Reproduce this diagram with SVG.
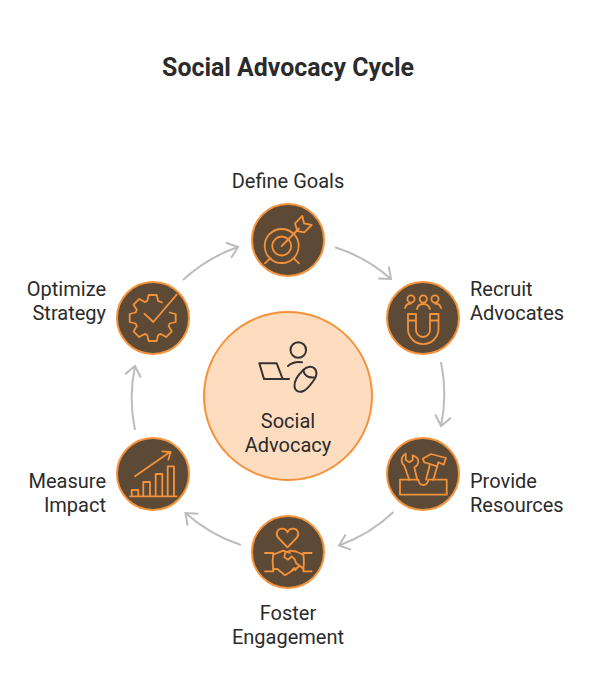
<svg xmlns="http://www.w3.org/2000/svg" width="600" height="696" viewBox="0 0 600 696">
<defs>
<marker id="ah" markerUnits="userSpaceOnUse" markerWidth="18" markerHeight="18" refX="12" refY="8" orient="auto" overflow="visible"><path d="M2 0L12 8L2 16" fill="none" stroke="#bcbcbc" stroke-width="2"/></marker>
</defs>
<style>
text{font-family:Roboto,"Liberation Sans",sans-serif;font-size:20px;fill:#2b2b2b}
.t{font-size:24.900px;font-weight:700;text-anchor:middle}
.m{text-anchor:middle}.e{text-anchor:end}
.c{fill:#5c4a37;stroke:#f5923a;stroke-width:2}
.i{fill:none;stroke:#f5923a;stroke-width:1.800;stroke-linejoin:round;stroke-linecap:round}
.k{fill:none;stroke:#333;stroke-width:2;stroke-linejoin:round;stroke-linecap:round}
.a{fill:none;stroke:#bcbcbc;stroke-width:2;marker-end:url(#ah)}
</style>
<rect width="600" height="696" fill="#fff"/>
<text class="t" x="288" y="75.500">Social Advocacy Cycle</text>
<g id="connectors">
<path class="a" d="M335 247.300A156 156 0 0 1 391 279"/>
<path class="a" d="M441 362A156 156 0 0 1 441 426"/>
<path class="a" d="M393.500 512A156 156 0 0 1 339 545.500"/>
<path class="a" d="M241 545A156 156 0 0 1 185.500 513"/>
<path class="a" d="M135 430A156 156 0 0 1 135 366"/>
<path class="a" d="M183 280A156 156 0 0 1 238 247"/>
</g>
<g id="center">
<circle cx="288" cy="396" r="84" fill="#fddcbf" stroke="#f5923a" stroke-width="2"/>
<circle class="k" cx="298.300" cy="350" r="7.800"/>
<path class="k" d="M288 366Q294 361 302 362.300"/>
<path class="k" d="M264 379L259.300 363.300H276.700L282.700 379H264M282.700 379H289"/>
<path class="k" d="M303.300 370C306 367 311 365.500 314 368C317.500 371 317 376 314 380C311 384 308 389 303.500 391C299 393 295 391 294.500 386.500C294 381 298 375 303.300 370Z"/>
<path class="k" d="M303.300 370C304 375 308 378 314 377.500"/>
<text class="m" x="288" y="428">Social</text>
<text class="m" x="288" y="452">Advocacy</text>
</g>
<g id="define-goals">
<circle class="c" cx="288" cy="240" r="36"/>
<circle class="i" cx="281.700" cy="246" r="17"/>
<circle class="i" cx="281.700" cy="246" r="9.500"/>
<path class="i" d="M281.700 246L299 228.500M265 263.300L270.500 258M299 263.300L293.500 258M295 223.300L302.300 216L304 223.300L311.700 225L304.300 232.300L297.300 231Z"/>
<text class="m" x="288" y="187.500">Define Goals</text>
</g>
<g id="recruit-advocates">
<circle class="c" cx="423" cy="318" r="36"/>
<circle class="i" cx="411" cy="299" r="3.600"/>
<circle class="i" cx="423.300" cy="299" r="3.600"/>
<circle class="i" cx="435" cy="299" r="3.600"/>
<path class="i" d="M405 308Q406 303.500 411 303.500M417 309Q418 304 423.300 304Q428.500 304 430 309M435 303.500Q440 303.500 441 308"/>
<path class="i" d="M408 314H416V330A7 7 0 0 0 430 330V314H438.500V330A15.300 15.300 0 0 1 408 330ZM408 320.500H416M430 320.500H438.500"/>
<text x="470" y="295.500">Recruit</text>
<text x="470" y="319.500">Advocates</text>
</g>
<g id="provide-resources">
<circle class="c" cx="423" cy="474" r="36"/>
<path class="i" d="M400 479.700H418.300Q419 485 423.300 485Q427.700 485 428.300 479.700H446.700V494.700H400Z"/>
<path class="i" d="M405.700 453.700L405.700 460L409.300 462.300L412.700 460V455.300Q418.300 457 418.300 461.300Q418.300 465.500 414.300 467.300L417.300 479.700M405.700 453.700Q401.700 456 401.700 459.700Q401.700 463.500 404.300 465.700L409.300 479.700"/>
<path class="i" d="M422.700 458.700L431 454L446 458L443.700 464.700L438.300 462.300L437.300 466.300L433.300 479.700M422.700 458.700L424.300 462.300L430 464L426 479.700M430 464L437.300 466.300"/>
<text x="470" y="487.500">Provide</text>
<text x="470" y="511.500">Resources</text>
</g>
<g id="foster-engagement">
<circle class="c" cx="288" cy="552" r="36"/>
<path class="i" d="M287.500 547.300L278 537.500C275 533.500 277.500 528.700 282 528.700C285 528.700 286.800 530.500 287.500 532.500C288.200 530.500 290 528.700 293 528.700C297.500 528.700 300 533.500 297 537.500Z"/>
<path class="i" d="M265 553H273.300Q272 562 273.300 571.300H265M311.700 553H303.300Q304.600 562 303.300 571.300H311.700"/>
<path class="i" d="M273.300 554.700L283.300 550.700L290 553M303.300 554.700L296 551.500L290 550.700L285 553L284.300 557.300L288.300 559.700L291.700 556.300L295 559.700L296 563L301.700 567.300L303.300 568.700M273.300 569H277.300L285 575.300L299.300 566.300M290 572.500L294 568M295.500 570L299 566"/>
<text class="m" x="288" y="619.500">Foster</text>
<text class="m" x="288" y="643.500">Engagement</text>
</g>
<g id="measure-impact">
<circle class="c" cx="153" cy="474" r="36"/>
<path class="i" d="M130 496.300H176.700M131.700 496.300V490H138.300V496.300M143.300 496.300V482H150V496.300M155.700 496.300V474H162.300V496.300M167.700 496.300V466.300H174V496.300M135 476.300L170 452M162.300 451.300L170.700 452L168.300 459.700"/>
<text class="e" x="106" y="487.500">Measure</text>
<text class="e" x="106" y="511.500">Impact</text>
</g>
<g id="optimize-strategy">
<circle class="c" cx="153" cy="318" r="36"/>
<path class="i" d="M144.300 313.700L153.300 322L176.700 294.700"/>
<path class="i" d="M169.700 312.500L175.700 314V322L169.700 323.500A17 17 0 0 1 168.600 326.100L171.800 331.400L166.100 337.100L160.800 333.900A17 17 0 0 1 158.200 335L156.700 341H148.700L147.200 335A17 17 0 0 1 144.600 333.900L139.300 337.100L133.600 331.400L136.800 326.100A17 17 0 0 1 135.700 323.500L129.700 322V314L135.700 312.500A17 17 0 0 1 136.800 309.900L133.600 304.600L139.300 298.900L144.600 302.100A17 17 0 0 1 147.200 301L148.700 295H156.700L158.200 301L162 302.300"/>
<text class="e" x="106" y="295.500">Optimize</text>
<text class="e" x="106" y="319.500">Strategy</text>
</g>
</svg>
